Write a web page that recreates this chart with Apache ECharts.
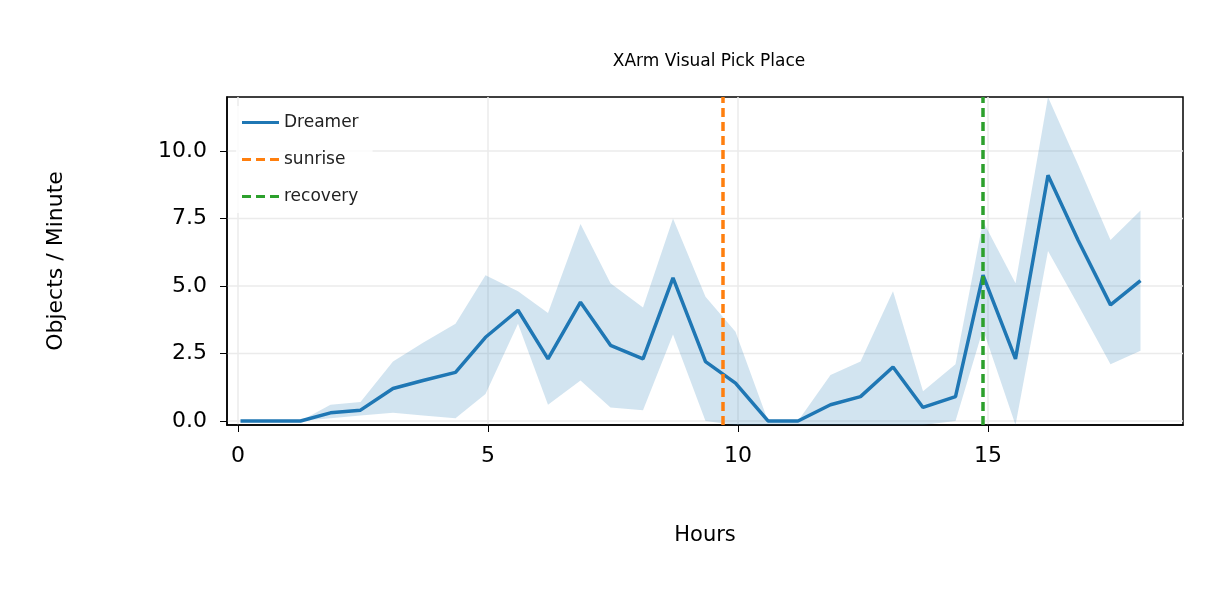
<!DOCTYPE html><html><head><meta charset="utf-8">
<script src="https://cdn.jsdelivr.net/npm/echarts@6/dist/echarts.min.js"></script>
<style>html,body{margin:0;background:#fff}#c{width:1227px;height:600px}</style></head><body><div id="c"></div>
<script>
const hours=[0.05,1.25,1.85,2.45,3.1,3.7,4.35,4.95,5.6,6.2,6.85,7.45,8.1,8.7,9.35,9.95,10.6,11.2,11.85,12.45,13.1,13.7,14.35,14.9,15.55,16.2,16.8,17.45,18.05];
const mean=[0.0,0.0,0.3,0.4,1.2,1.5,1.8,3.1,4.1,2.3,4.4,2.8,2.3,5.3,2.2,1.4,0,0,0.6,0.9,2.0,0.5,0.9,5.4,2.3,9.1,6.7,4.3,5.2];
const upper=[0.0,0.0,0.6,0.7,2.2,2.9,3.6,5.4,4.8,4.0,7.3,5.1,4.2,7.5,4.6,3.3,0.0,0.0,1.7,2.2,4.8,1.1,2.1,7.4,5.1,12.0,9.5,6.7,7.8];
const lower=[0,0,0.1,0.2,0.3,0.2,0.1,1.0,3.6,0.6,1.5,0.5,0.4,3.2,0.0,-0.5,-0.5,-0.5,-0.5,-0.4,-0.5,-0.2,0,3.4,-0.4,6.3,4.3,2.1,2.6];
const xTicks=[0,5,10,15], yTicks=[0,2.5,5,7.5,10];
const sunrise=9.7, recovery=14.9;
const YMIN=-0.15,YMAX=12.0,XMIN=-0.22,XMAX=18.9;
const c=echarts.init(document.getElementById('c'));
const font='DejaVu Sans';
const dash='path://M0,0H9V3H0Z M14,0H23V3H14Z M28,0H37V3H28Z';
c.setOption({
 animation:false,
 textStyle:{fontFamily:font},
 title:{text:'XArm Visual Pick Place',left:704,top:48,textAlign:'center',textStyle:{fontSize:17,fontWeight:'normal',color:'#000',fontFamily:font}},
 grid:{left:227,right:44,top:97,bottom:175,show:true,borderColor:'#000',borderWidth:1.5,backgroundColor:'transparent'},
 legend:{left:236,top:106,orient:'vertical',itemGap:20,itemWidth:37,itemHeight:3,backgroundColor:'rgba(255,255,255,0.85)',borderColor:'#ddd',borderWidth:0,padding:[8,14,8,6],
  textStyle:{fontSize:17,color:'#222',fontFamily:font},
  data:[{name:'Dreamer',icon:'path://M0,0H37V3H0Z'},{name:'sunrise',icon:dash},{name:'recovery',icon:dash}]},
 xAxis:{type:'value',min:XMIN,max:XMAX,name:'Hours',nameLocation:'middle',nameGap:100,nameTextStyle:{fontSize:21,color:'#000'},
  axisLine:{onZero:false,lineStyle:{color:'#000',width:1.5}},axisTick:{length:7,lineStyle:{color:'#000'},customValues:xTicks},
  axisLabel:{fontSize:22,color:'#000',margin:20,customValues:xTicks},
  splitLine:{show:false}},
 yAxis:{type:'value',min:YMIN,max:YMAX,name:'Objects / Minute',nameLocation:'middle',nameGap:160,nameTextStyle:{fontSize:22,color:'#000'},
  axisLine:{show:true,onZero:false,lineStyle:{color:'#000',width:1.5}},axisTick:{show:true,length:7,lineStyle:{color:'#000'},customValues:yTicks},
  axisLabel:{fontSize:22,color:'#000',margin:20,customValues:yTicks,formatter:v=>v.toFixed(1)},
  splitLine:{show:false}},
 series:[
  {type:'custom',silent:true,clip:true,data:[0],z:1,renderItem:(p,api)=>{
    if(p.dataIndex!==0)return;
    const pts=[];
    hours.forEach((h,i)=>pts.push(api.coord([h,Math.min(YMAX,Math.max(YMIN,upper[i]))])));
    for(let i=hours.length-1;i>=0;i--)pts.push(api.coord([hours[i],Math.min(YMAX,Math.max(YMIN,lower[i]))]));
    return {type:'polygon',shape:{points:pts},style:{fill:'rgba(31,119,180,0.2)'}};
  }},
  {type:'custom',silent:true,data:[0],z:0,renderItem:(p,api)=>{
    if(p.dataIndex!==0)return;
    const ch=[];
    xTicks.forEach(x=>{const a=api.coord([x,YMIN]),b=api.coord([x,YMAX]);ch.push({type:'line',shape:{x1:a[0],y1:a[1],x2:b[0],y2:b[1]},style:{stroke:'#ebebeb',lineWidth:1.5}});});
    yTicks.forEach(y=>{const a=api.coord([XMIN,y]),b=api.coord([XMAX,y]);ch.push({type:'line',shape:{x1:a[0],y1:a[1],x2:b[0],y2:b[1]},style:{stroke:'#ebebeb',lineWidth:1.5}});});
    return {type:'group',children:ch};
  }},
  {name:'Dreamer',type:'line',data:hours.map((h,i)=>[h,mean[i]]),showSymbol:false,lineStyle:{color:'#1f77b4',width:3.5},itemStyle:{color:'#1f77b4'},z:3},
  {name:'sunrise',type:'line',data:[],symbol:'none',itemStyle:{color:'#ff7f0e'},lineStyle:{color:'#ff7f0e',type:[9,5],width:3.5},
   markLine:{silent:true,symbol:'none',label:{show:false},lineStyle:{color:'#ff7f0e',type:[9,5],width:3.5},data:[{xAxis:sunrise}]}},
  {name:'recovery',type:'line',data:[],symbol:'none',itemStyle:{color:'#2ca02c'},lineStyle:{color:'#2ca02c',type:[9,5],width:3.5},
   markLine:{silent:true,symbol:'none',label:{show:false},lineStyle:{color:'#2ca02c',type:[9,5],width:3.5},data:[{xAxis:recovery}]}}
 ]
});
</script></body></html>
